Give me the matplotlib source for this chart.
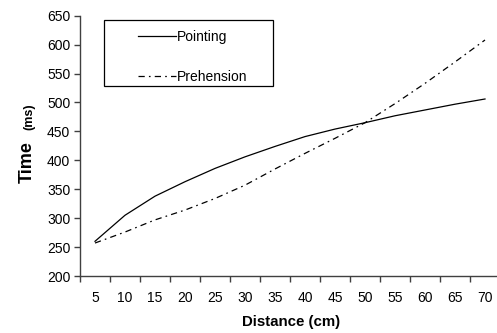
import matplotlib
matplotlib.use('Agg')
import matplotlib.pyplot as plt
from matplotlib.patches import Rectangle

plt.rcParams['font.family'] = ['Liberation Sans', 'DejaVu Sans']
plt.rcParams['lines.scale_dashes'] = False

# data
distance = [5, 10, 15, 20, 25, 30, 35, 40, 45, 50, 55, 60, 65, 70]
pointing = [260, 305, 338, 363, 386, 406, 424, 441, 454, 465, 477, 487, 497, 506]
prehension = [257, 276, 297, 314, 334, 357, 385, 412, 438, 465, 498, 533, 570, 608]
yticks = [200, 250, 300, 350, 400, 450, 500, 550, 600, 650]

W, H = 497, 333
fig = plt.figure(figsize=(W / 100, H / 100), dpi=100, facecolor='white')
ax = fig.add_axes([80 / W, 1 - 276 / H, 417 / W, 260.3 / H])

idx = list(range(len(distance)))
ax.plot(idx, pointing, color='black', lw=0.9, label='Pointing')
ax.plot(idx, prehension, color='black', lw=0.9, dashes=(4.5, 3, 1.2, 3),
        label='Prehension')

ax.set_xlim(-0.5, 13.4)
ax.set_ylim(200, 650)
ax.set_yticks(yticks)
ax.set_xticks([i for i in idx])
ax.set_xticklabels([str(d) for d in distance])
ax.set_xticks([i - 0.5 for i in idx], minor=True)
ax.tick_params(axis='x', which='major', length=0, pad=11, labelsize=10)
ax.tick_params(axis='x', which='minor', length=4, width=1, color='#404040',
               direction='out')
ax.tick_params(axis='y', length=4, width=1, color='#404040', pad=3,
               labelsize=10)

for side in ['top', 'right']:
    ax.spines[side].set_visible(False)
for side in ['left', 'bottom']:
    ax.spines[side].set_color('#404040')
    ax.spines[side].set_linewidth(1)

ax.set_xlabel('Distance (cm)', fontsize=10.8, fontweight='bold')
ax.xaxis.set_label_coords(0.506, -0.15)

fig.text(32 / W, 1 - 162 / H, 'Time', rotation=90, rotation_mode='anchor',
         ha='center', va='baseline', fontsize=13, fontweight='bold')
fig.text(32 / W, 1 - 117 / H, '(ms)', rotation=90, rotation_mode='anchor',
         ha='center', va='baseline', fontsize=9, fontweight='bold')

# legend box drawn separately so padding can differ per side
fig.patches.append(Rectangle((104 / W, 1 - 86 / H), 169 / W, 66 / H,
                             transform=fig.transFigure, fill=False,
                             edgecolor='black', lw=0.9))
ax.legend(loc='center left', bbox_to_anchor=(138 / W, 1 - 57 / H),
          bbox_transform=fig.transFigure, frameon=False, fontsize=10,
          borderpad=0, borderaxespad=0, handlelength=2.73,
          handletextpad=0.1, labelspacing=1.88)

fig.savefig('out.png', dpi=100, facecolor='white')
